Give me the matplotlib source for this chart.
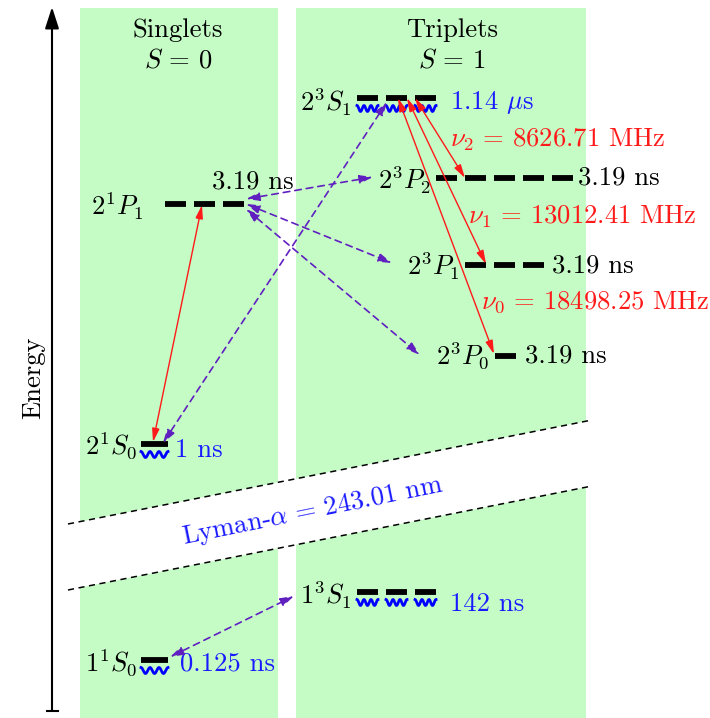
import numpy as np
import matplotlib
matplotlib.use("Agg")
import matplotlib.pyplot as plt
from matplotlib.patches import Rectangle, Polygon, FancyArrowPatch

plt.rcParams["mathtext.fontset"] = "cm"
plt.rcParams["font.family"] = ["cmr10", "DejaVu Serif"]
plt.rcParams["axes.unicode_minus"] = False

# ---- data -------------------------------------------------------------
level_names = ["1^1S_0", "2^1S_0", "2^1P_1", "1^3S_1", "2^3S_1", "2^3P_0", "2^3P_1", "2^3P_2"]
sublevels = [1, 1, 3, 3, 3, 1, 3, 5]            # 2J+1 magnetic sublevels
lifetimes = ["0.125 ns", "1 ns", "3.19 ns", "142 ns", r"1.14 $\mu$s", "3.19 ns", "3.19 ns", "3.19 ns"]
annihilates = [True, True, False, True, True, False, False, False]

fs_names = [r"\nu_0", r"\nu_1", r"\nu_2"]
fs_freqs_mhz = [18498.25, 13012.41, 8626.71]
lyman_alpha_nm = 243.01

# ---- layout (pixel coordinates, y downward) ---------------------------
FS = 19.2
BLUE = "#1a1aff"
RED = "#ff1a1a"
PURPLE = "#6020c0"
GREEN = "#c5fcc6"

# name: (bar x start, bar y, bar width, pitch, label right x, label y, lifetime x, lifetime y, lifetime colour)
layout = {
    "1^1S_0": (141, 659.5, 27, 29, 137, 663, 180, 664, BLUE),
    "2^1S_0": (141, 443.5, 27, 29, 137, 446, 175, 450, BLUE),
    "2^1P_1": (165, 204, 21, 29, 144, 206, 212, 182, "black"),
    "1^3S_1": (357, 591.5, 21, 29, 352, 595, 450, 604, BLUE),
    "2^3S_1": (357, 97.5, 21, 29, 352, 102, 450, 102, BLUE),
    "2^3P_0": (495, 356, 21, 29, 489, 356, 525, 356, "black"),
    "2^3P_1": (465, 265, 21, 29, 460, 266, 552, 266, "black"),
    "2^3P_2": (436, 178, 21, 29, 431, 180, 578, 178, "black"),
}

fig = plt.figure(figsize=(7.10, 7.18), dpi=100)
ax = fig.add_axes([0, 0, 1, 1])
ax.set_xlim(0, 710)
ax.set_ylim(718, 0)
ax.axis("off")

# spin manifolds
ax.add_patch(Rectangle((80, 8), 198, 712, facecolor=GREEN, edgecolor="none", zorder=0))
ax.add_patch(Rectangle((296, 8), 290, 712, facecolor=GREEN, edgecolor="none", zorder=0))

ax.text(178, 30, "Singlets", fontsize=FS, ha="center", va="center")
ax.text(178, 61, r"$S\,=\,0$", fontsize=FS, ha="center", va="center")
ax.text(452, 30, "Triplets", fontsize=FS, ha="center", va="center")
ax.text(452, 61, r"$S\,=\,1$", fontsize=FS, ha="center", va="center")

# axis break between n=1 and n=2
xb = np.array([68, 592])
y_up = np.array([524, 420])
y_lo = np.array([590, 486])
ax.add_patch(Polygon([[xb[0], y_up[0]], [xb[1], y_up[1]], [xb[1], y_lo[1]], [xb[0], y_lo[0]]],
                     closed=True, facecolor="white", edgecolor="none", zorder=1))
ax.plot(xb, y_up, color="black", lw=1.1, ls=(0, (4, 3)), zorder=2)
ax.plot(xb, y_lo, color="black", lw=1.1, ls=(0, (4, 3)), zorder=2)
ax.text(313, 511, r"Lyman-$\alpha\,=\,$" + f"{lyman_alpha_nm:.2f} nm", fontsize=FS, color=BLUE,
        ha="center", va="center", rotation=11.5, rotation_mode="anchor", zorder=3)

# energy axis
ax.add_patch(FancyArrowPatch((52, 711), (52, 7), arrowstyle="-|>,head_length=1.3,head_width=0.42",
                             mutation_scale=10, lw=1.5, color="black", shrinkA=0, shrinkB=0, zorder=3))
ax.plot([46.5, 58], [711, 711], color="black", lw=1.5, zorder=3)
ax.text(33, 378, "Energy", fontsize=FS, rotation=90, ha="center", va="center")

# levels
for name, n_sub, life, ann in zip(level_names, sublevels, lifetimes, annihilates):
    x0, y0, w, pitch, lx, ly, tx, ty, tcol = layout[name]
    for k in range(n_sub):
        xs = x0 + k * pitch
        ax.plot([xs, xs + w], [y0, y0], color="black", lw=4.2, solid_capstyle="butt", zorder=4)
        if ann:
            xw = np.linspace(xs, xs + w, 200)
            yw = y0 + 11 - 3.0 * np.cos(2 * np.pi * 3 * (xw - xs) / w)
            ax.plot(xw, yw, color="blue", lw=2.0, zorder=4)
    ax.text(lx, ly, f"${name}$", fontsize=FS, ha="right", va="center", zorder=5)
    ax.text(tx, ty, life, fontsize=FS, color=tcol, ha="left", va="center", zorder=5)

# fine-structure microwave transitions 2^3S_1 <-> 2^3P_J
red_arrows = [((398, 98), (494, 354)), ((407, 98), (486, 264)), ((415, 98), (465, 178))]
red_label_pos = [(481, 302), (468, 217), (450, 140)]
for (p, q), nm, f, (tx, ty) in zip(red_arrows, fs_names, fs_freqs_mhz, red_label_pos):
    ax.add_patch(FancyArrowPatch(p, q, arrowstyle="<|-|>,head_length=0.8,head_width=0.22",
                                 mutation_scale=10, lw=1.0, color=RED, shrinkA=0, shrinkB=0, zorder=6))
    ax.text(tx, ty, f"${nm}\\,=\\,{f:.2f}$ MHz", fontsize=FS, color=RED, ha="left", va="center", zorder=5)

# 2^1S_0 <-> 2^1P_1
ax.add_patch(FancyArrowPatch((153, 442), (202, 205), arrowstyle="<|-|>,head_length=0.8,head_width=0.22",
                             mutation_scale=10, lw=1.0, color=RED, shrinkA=0, shrinkB=0, zorder=6))

# singlet-triplet mixing
purple_arrows = [((170, 657), (294, 596)),
                 ((163, 443), (387, 102)),
                 ((246, 199), (373, 177)),
                 ((246, 204), (392, 263)),
                 ((246, 209), (420, 355))]
for p, q in purple_arrows:
    ax.add_patch(FancyArrowPatch(p, q, arrowstyle="<|-|>,head_length=0.8,head_width=0.25",
                                 mutation_scale=10, lw=1.2, color=PURPLE, ls=(0, (4, 3)),
                                 shrinkA=0, shrinkB=0, zorder=6))

fig.savefig("out.png", dpi=100)
